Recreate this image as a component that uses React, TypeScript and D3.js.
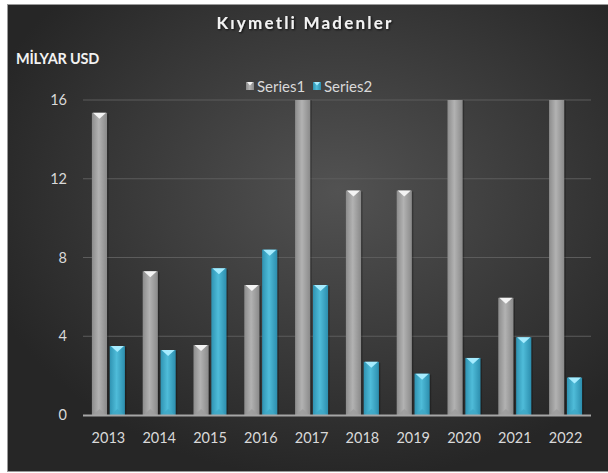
import React, { useRef, useEffect } from "react";
import * as d3 from "d3";

const years = ["2013", "2014", "2015", "2016", "2017", "2018", "2019", "2020", "2021", "2022"];
const seriesNames = ["Series1", "Series2"];
// Series1 goes past the 16 axis max in 2017, 2020 and 2022 (clipped in the picture)
const series1 = [15.35, 7.3, 3.55, 6.6, 19.5, 11.4, 11.4, 21.0, 5.95, 18.5];
const series2 = [3.5, 3.3, 7.45, 8.4, 6.6, 2.7, 2.1, 2.9, 3.95, 1.9];
const yTicks = [0, 4, 8, 12, 16];

const W = 608;
const H = 473;
const FONT = "Lato, 'Open Sans', sans-serif";

const App: React.FC = () => {
  const svgRef = useRef<SVGSVGElement | null>(null);

  useEffect(() => {
    const svg = d3.select(svgRef.current);
    svg.selectAll("*").remove();

    const m = { left: 83, right: 17, top: 100, bottom: 58 };
    const plotW = W - m.left - m.right;
    const plotH = H - m.top - m.bottom;

    const defs = svg.append("defs");

    const bg = defs
      .append("radialGradient")
      .attr("id", "bg")
      .attr("cx", "55%")
      .attr("cy", "40%")
      .attr("r", "62%");
    bg.append("stop").attr("offset", "0%").attr("stop-color", "#525252");
    bg.append("stop").attr("offset", "100%").attr("stop-color", "#262626");

    const g1 = defs.append("linearGradient").attr("id", "s1");
    g1.append("stop").attr("offset", "0%").attr("stop-color", "#8c8c8c");
    g1.append("stop").attr("offset", "45%").attr("stop-color", "#b2b2b2");
    g1.append("stop").attr("offset", "100%").attr("stop-color", "#8a8a8a");

    const g2 = defs.append("linearGradient").attr("id", "s2");
    g2.append("stop").attr("offset", "0%").attr("stop-color", "#2f93b2");
    g2.append("stop").attr("offset", "45%").attr("stop-color", "#4fbcd9");
    g2.append("stop").attr("offset", "100%").attr("stop-color", "#2c8eae");

    defs
      .append("clipPath")
      .attr("id", "plotClip")
      .append("rect")
      .attr("x", m.left)
      .attr("y", m.top)
      .attr("width", plotW)
      .attr("height", plotH + 2);

    const shadow = defs.append("filter").attr("id", "txtShadow");
    shadow
      .append("feDropShadow")
      .attr("dx", 1)
      .attr("dy", 1)
      .attr("stdDeviation", 0.8)
      .attr("flood-color", "#000")
      .attr("flood-opacity", 0.8);

    // background
    svg.append("rect").attr("x", 8).attr("y", 5).attr("width", W - 8).attr("height", 466).attr("fill", "url(#bg)");
    svg.append("rect").attr("x", 7.5).attr("y", 4.5).attr("width", W).attr("height", 467).attr("fill", "none").attr("stroke", "#9a9a9a").attr("stroke-width", 1);

    const x0 = d3.scaleBand().domain(years).range([m.left, m.left + plotW]).paddingInner(0.35).paddingOuter(0.175);
    const x1 = d3.scaleBand().domain(seriesNames).range([0, x0.bandwidth()]).paddingInner(0.15);
    const y = d3.scaleLinear().domain([0, 16]).range([m.top + plotH, m.top]);

    // gridlines
    svg
      .append("g")
      .selectAll("line")
      .data(yTicks.filter((t) => t > 0))
      .join("line")
      .attr("x1", m.left)
      .attr("x2", m.left + plotW)
      .attr("y1", (d) => y(d))
      .attr("y2", (d) => y(d))
      .attr("stroke", "#5c5c5c")
      .attr("stroke-width", 1);

    // y labels
    svg
      .append("g")
      .selectAll("text")
      .data(yTicks)
      .join("text")
      .attr("x", 67)
      .attr("y", (d) => y(d) + 5)
      .attr("text-anchor", "end")
      .attr("fill", "#d9d9d9")
      .style("font-family", FONT)
      .style("font-size", "14.5px")
      .text((d) => d);

    const bars = svg.append("g").attr("clip-path", "url(#plotClip)");
    const data = [series1, series2];
    const caps = ["#f4f4f4", "#a6ecff"];
    const bottoms = ["#9c9c9c", "#3fa8c6"];

    seriesNames.forEach((s, si) => {
      const bw = x1.bandwidth();
      const grp = bars.append("g");
      years.forEach((yr, i) => {
        const v = data[si][i];
        const bx = (x0(yr) as number) + (x1(s) as number);
        const top = y(v);
        const base = y(0);
        grp
          .append("rect")
          .attr("x", bx + 1.5)
          .attr("y", top + 1)
          .attr("width", bw)
          .attr("height", base - top)
          .attr("fill", "#000")
          .attr("opacity", 0.25);
        grp
          .append("rect")
          .attr("x", bx)
          .attr("y", top)
          .attr("width", bw)
          .attr("height", base - top)
          .attr("fill", `url(#s${si + 1})`);
        // top bevel
        grp
          .append("path")
          .attr("d", `M${bx + 1},${top} L${bx + bw - 1},${top} L${bx + bw / 2},${top + 6} Z`)
          .attr("fill", caps[si]);
        // bottom bevel
        grp
          .append("path")
          .attr("d", `M${bx + 1},${base} L${bx + bw - 1},${base} L${bx + bw / 2},${base - 6} Z`)
          .attr("fill", bottoms[si])
          .attr("opacity", 0.8);
      });
    });

    // x axis line
    svg
      .append("line")
      .attr("x1", m.left)
      .attr("x2", m.left + plotW)
      .attr("y1", y(0) + 0.5)
      .attr("y2", y(0) + 0.5)
      .attr("stroke", "#a6a6a6")
      .attr("stroke-width", 2);

    // x labels
    svg
      .append("g")
      .selectAll("text")
      .data(years)
      .join("text")
      .attr("x", (d) => (x0(d) as number) + x0.bandwidth() / 2)
      .attr("y", y(0) + 28)
      .attr("text-anchor", "middle")
      .attr("fill", "#d9d9d9")
      .style("font-family", FONT)
      .style("font-size", "14.5px")
      .text((d) => d);

    // title
    svg
      .append("text")
      .attr("x", 305)
      .attr("y", 29)
      .attr("text-anchor", "middle")
      .attr("fill", "#f2f2f2")
      .attr("filter", "url(#txtShadow)")
      .style("font-family", FONT)
      .style("font-size", "17px")
      .style("font-weight", "bold")
      .style("letter-spacing", "2.2px")
      .text("Kıymetli Madenler");

    // unit label
    svg
      .append("text")
      .attr("x", 16)
      .attr("y", 64)
      .attr("fill", "#f2f2f2")
      .style("font-family", FONT)
      .style("font-size", "14.5px")
      .style("font-weight", "bold")
      .style("letter-spacing", "-0.2px")
      .text("MİLYAR USD");

    // legend
    const legend = svg.append("g");
    const legendX = [246, 313];
    seriesNames.forEach((s, si) => {
      const lx = legendX[si];
      legend
        .append("rect")
        .attr("x", lx)
        .attr("y", 82)
        .attr("width", 8)
        .attr("height", 8)
        .attr("fill", `url(#s${si + 1})`);
      legend
        .append("path")
        .attr("d", `M${lx + 1},82 L${lx + 7},82 L${lx + 4},85.5 Z`)
        .attr("fill", caps[si]);
      legend
        .append("text")
        .attr("x", lx + 11)
        .attr("y", 91.5)
        .attr("fill", "#d9d9d9")
        .style("font-family", FONT)
        .style("font-size", "15px")
        .text(s);
    });
  }, []);

  return (
    <svg
      ref={svgRef}
      width={W}
      height={H}
      style={{ position: "absolute", left: 0, top: 0, background: "#fff" }}
    />
  );
};

export default App;
